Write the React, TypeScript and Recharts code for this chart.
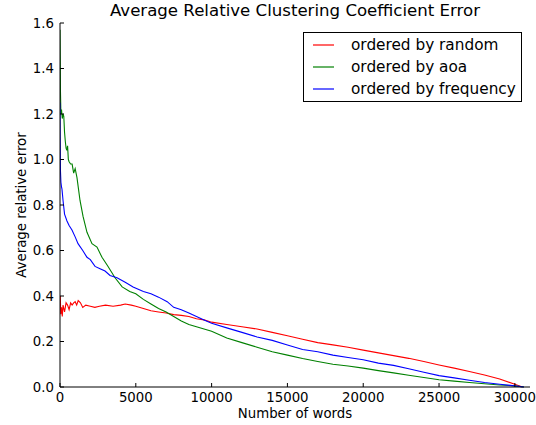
import { LineChart, Line, XAxis, YAxis } from "recharts";

const xTicks = [0, 5000, 10000, 15000, 20000, 25000, 30000];
const yTicks = [0, 0.2, 0.4, 0.6, 0.8, 1.0, 1.2, 1.4, 1.6];

const randomX = [0, 20, 50, 100, 150, 200, 300, 400, 500, 600, 700, 800, 900, 1000, 1100, 1200, 1350, 1500, 1700, 2000, 2300, 2600, 3000, 3500, 4000, 4300, 4700, 5000, 5500, 6000, 6500, 7000, 7500, 8000, 8500, 9000, 9500, 10000, 11000, 12000, 13000, 14000, 15000, 16000, 17000, 18000, 19000, 20000, 21000, 22000, 23000, 24000, 25000, 26000, 27000, 28000, 29000, 30000, 30500];
const randomY = [0.37, 0.4, 0.32, 0.35, 0.31, 0.36, 0.33, 0.37, 0.36, 0.34, 0.37, 0.36, 0.37, 0.375, 0.36, 0.38, 0.37, 0.35, 0.36, 0.355, 0.35, 0.355, 0.36, 0.355, 0.36, 0.365, 0.36, 0.355, 0.345, 0.335, 0.33, 0.325, 0.318, 0.315, 0.31, 0.3, 0.295, 0.285, 0.275, 0.265, 0.255, 0.24, 0.225, 0.21, 0.195, 0.185, 0.175, 0.162, 0.15, 0.138, 0.126, 0.112, 0.097, 0.083, 0.068, 0.053, 0.035, 0.012, 0];

const aoaX = [0, 15, 30, 60, 100, 150, 200, 250, 300, 350, 400, 450, 500, 550, 600, 700, 800, 900, 1000, 1120, 1320, 1520, 1780, 2110, 2440, 2770, 3170, 3630, 4100, 4600, 5000, 5500, 6000, 6500, 7000, 7500, 8000, 8500, 9000, 10000, 11000, 12000, 13000, 14000, 15000, 16000, 17000, 18000, 19000, 20000, 21000, 22000, 23000, 24000, 25000, 26000, 27000, 28000, 29000, 30000, 30600];
const aoaY = [1.57, 1.45, 1.3, 1.2, 1.22, 1.18, 1.2, 1.19, 1.12, 1.08, 1.05, 1.04, 1.06, 1.0, 0.99, 0.98, 0.98, 0.94, 0.96, 0.92, 0.82, 0.75, 0.68, 0.63, 0.615, 0.57, 0.53, 0.48, 0.44, 0.42, 0.41, 0.385, 0.365, 0.345, 0.33, 0.31, 0.29, 0.275, 0.265, 0.245, 0.215, 0.195, 0.175, 0.155, 0.14, 0.125, 0.112, 0.1, 0.092, 0.083, 0.072, 0.062, 0.052, 0.042, 0.032, 0.026, 0.02, 0.014, 0.009, 0.005, 0];

const freqX = [0, 10, 30, 60, 100, 130, 200, 300, 460, 600, 790, 1000, 1190, 1500, 1780, 2000, 2310, 2640, 2970, 3300, 3760, 4300, 4820, 5500, 6000, 6500, 7070, 7500, 8000, 8500, 9000, 9500, 10000, 11000, 12000, 13000, 14000, 15000, 16000, 17000, 18000, 19000, 20000, 21000, 22000, 23000, 24000, 25000, 26000, 27000, 28000, 29000, 30000, 30600];
const freqY = [1.25, 1.1, 0.95, 0.9, 0.88, 0.87, 0.82, 0.76, 0.73, 0.71, 0.69, 0.66, 0.63, 0.6, 0.57, 0.56, 0.53, 0.52, 0.51, 0.49, 0.48, 0.46, 0.44, 0.42, 0.41, 0.395, 0.375, 0.35, 0.34, 0.325, 0.31, 0.295, 0.28, 0.26, 0.24, 0.22, 0.205, 0.185, 0.165, 0.155, 0.14, 0.13, 0.12, 0.105, 0.095, 0.08, 0.065, 0.05, 0.04, 0.03, 0.02, 0.012, 0.005, 0];

const toPoints = (xs: number[], ys: number[]) => xs.map((x, i) => ({ x, y: ys[i] }));

const series = [
  { name: "ordered by random", color: "#ff0000", data: toPoints(randomX, randomY) },
  { name: "ordered by aoa", color: "#008000", data: toPoints(aoaX, aoaY) },
  { name: "ordered by frequency", color: "#0000ff", data: toPoints(freqX, freqY) },
];

const font = "'DejaVu Sans', sans-serif";
const tickStyle = { fontSize: 13.3, fill: "#000", fontFamily: font };
const noLabel = () => <g />;

export default function App() {
  return (
    <div style={{ position: "absolute", left: 0, top: 0, width: 536, height: 425, background: "#fff", fontFamily: font }}>
      <LineChart width={536} height={425} margin={{ top: 23, right: 6, bottom: 0, left: 0 }}>
        <XAxis
          dataKey="x"
          type="number"
          domain={[0, 31000]}
          ticks={xTicks}
          allowDataOverflow
          height={38}
          tickSize={-4}
          tickMargin={10}
          stroke="#000"
          tick={tickStyle}
        />
        <XAxis
          xAxisId="top"
          orientation="top"
          dataKey="x"
          type="number"
          domain={[0, 31000]}
          ticks={xTicks}
          height={0}
          tickSize={-4}
          stroke="#000"
          tick={noLabel}
        />
        <YAxis
          type="number"
          domain={[0, 1.6]}
          ticks={yTicks}
          width={60}
          tickSize={-4}
          tickMargin={10}
          stroke="#000"
          tick={tickStyle}
          tickFormatter={(v) => Number(v).toFixed(1)}
        />
        <YAxis
          yAxisId="right"
          orientation="right"
          type="number"
          domain={[0, 1.6]}
          ticks={yTicks}
          width={0}
          tickSize={-4}
          stroke="#000"
          tick={noLabel}
        />
        {series.map((s) => (
          <Line
            key={s.name}
            data={s.data}
            dataKey="y"
            type="linear"
            stroke={s.color}
            strokeWidth={1.1}
            dot={false}
            isAnimationActive={false}
          />
        ))}
      </LineChart>
      <div style={{ position: "absolute", left: 60, width: 470, top: 1, textAlign: "center", fontSize: 16.6, color: "#000" }}>
        Average Relative Clustering Coefficient Error
      </div>
      <div style={{ position: "absolute", left: 60, width: 470, top: 406, textAlign: "center", fontSize: 13.3, color: "#000" }}>
        Number of words
      </div>
      <div
        style={{
          position: "absolute",
          left: 21,
          top: 205,
          transform: "translate(-50%, -50%) rotate(-90deg)",
          whiteSpace: "nowrap",
          fontSize: 13.3,
          color: "#000",
        }}
      >
        Average relative error
      </div>
      <div
        style={{
          position: "absolute",
          left: 303,
          top: 32,
          width: 219,
          height: 70,
          border: "1px solid #000",
          background: "#fff",
          padding: "1px 0",
          boxSizing: "border-box",
        }}
      >
        {series.map((s) => (
          <div key={s.name} style={{ display: "flex", alignItems: "center", height: 22, fontSize: 15.3, color: "#000" }}>
            <svg width={21} height={4} style={{ marginLeft: 9, marginRight: 17, flex: "none" }}>
              <line x1={0} x2={21} y1={2} y2={2} stroke={s.color} strokeWidth={1.2} />
            </svg>
            {s.name}
          </div>
        ))}
      </div>
    </div>
  );
}
